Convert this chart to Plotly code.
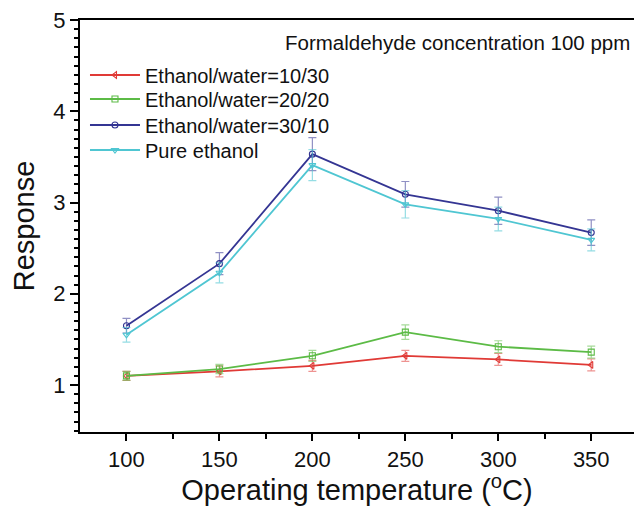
import plotly.graph_objects as go

# Operating temperatures (°C)
temperature = [100, 150, 200, 250, 300, 350]

# Response to 100 ppm formaldehyde, with error bar half-widths
resp_10_30 = [1.10, 1.15, 1.21, 1.32, 1.28, 1.22]
err_10_30 = [0.05, 0.06, 0.06, 0.06, 0.065, 0.065]

resp_20_20 = [1.10, 1.175, 1.32, 1.58, 1.42, 1.36]
err_20_20 = [0.05, 0.05, 0.06, 0.08, 0.065, 0.065]

resp_30_10 = [1.65, 2.33, 3.53, 3.09, 2.91, 2.67]
err_30_10 = [0.08, 0.12, 0.18, 0.14, 0.15, 0.14]

resp_pure = [1.55, 2.23, 3.41, 2.98, 2.82, 2.59]
err_pure = [0.08, 0.11, 0.17, 0.15, 0.13, 0.12]

series = [
    ("Ethanol/water=10/30", resp_10_30, err_10_30, "#e03a36", "rgba(224,58,54,0.55)", "triangle-left-open"),
    ("Ethanol/water=20/20", resp_20_20, err_20_20, "#5cbb46", "rgba(92,187,70,0.55)", "square-open"),
    ("Ethanol/water=30/10", resp_30_10, err_30_10, "#343593", "rgba(52,53,147,0.55)", "circle-open"),
    ("Pure ethanol", resp_pure, err_pure, "#4fc6d2", "rgba(79,198,210,0.6)", "triangle-down-open"),
]

font_family = "Liberation Sans, Arial, sans-serif"

# one legend box per series so the rows can sit closer together
legend_ids = ["legend", "legend2", "legend3", "legend4"]
legend_rows_y = [0.8665, 0.8083, 0.7451, 0.6845]

fig = go.Figure()
for (name, ys, es, col, ecol, sym), lid in zip(series, legend_ids):
    fig.add_trace(go.Scatter(
        x=temperature, y=ys, name=name, mode="lines+markers", legend=lid,
        line=dict(color=col, width=1.8),
        marker=dict(symbol=sym, size=6, color=col, line=dict(width=1.1, color=col)),
        error_y=dict(type="data", array=es, visible=True, color=ecol, thickness=1.2, width=4),
    ))

legend_style = dict(
    x=0.009, xanchor="left", yanchor="middle",
    font=dict(size=20, family=font_family, color="#111"),
    bgcolor="rgba(0,0,0,0)", itemwidth=50,
)

fig.update_layout(
    width=634, height=506,
    margin=dict(l=80, r=0, t=20, b=74),
    paper_bgcolor="white", plot_bgcolor="white",
    font=dict(family=font_family, color="#111"),
    showlegend=True,
    legend=dict(y=legend_rows_y[0], **legend_style),
    legend2=dict(y=legend_rows_y[1], **legend_style),
    legend3=dict(y=legend_rows_y[2], **legend_style),
    legend4=dict(y=legend_rows_y[3], **legend_style),
    xaxis=dict(
        range=[75, 373], tickvals=[100, 150, 200, 250, 300, 350],
        showgrid=False, zeroline=False,
        showline=True, linecolor="black", linewidth=2, mirror=True,
        ticks="outside", ticklen=7, tickwidth=2, tickcolor="black",
        minor=dict(tickvals=[125, 175, 225, 275, 325], ticks="outside", ticklen=5, tickwidth=2, tickcolor="black"),
        tickfont=dict(size=22, family=font_family, color="#111"),
        title=dict(text="Operating temperature (<sup>o</sup>C)", font=dict(size=29, family=font_family, color="#111"), standoff=6),
    ),
    yaxis=dict(
        range=[0.485, 5.0], tickvals=[1, 2, 3, 4, 5],
        showgrid=False, zeroline=False,
        showline=True, linecolor="black", linewidth=2,
        ticks="outside", ticklen=8, tickwidth=2, tickcolor="black",
        minor=dict(dtick=0.1, ticks="outside", ticklen=4, tickwidth=1.5, tickcolor="black"),
        tickfont=dict(size=22, family=font_family, color="#111"),
        title=dict(text="Response", font=dict(size=29, family=font_family, color="#111"), standoff=10),
    ),
    annotations=[dict(
        text="Formaldehyde concentration 100 ppm", xref="paper", yref="paper",
        x=0.997, y=0.945, xanchor="right", yanchor="middle", showarrow=False,
        font=dict(size=20.5, family=font_family, color="#111"),
    )],
)

fig.write_html("out.html")
